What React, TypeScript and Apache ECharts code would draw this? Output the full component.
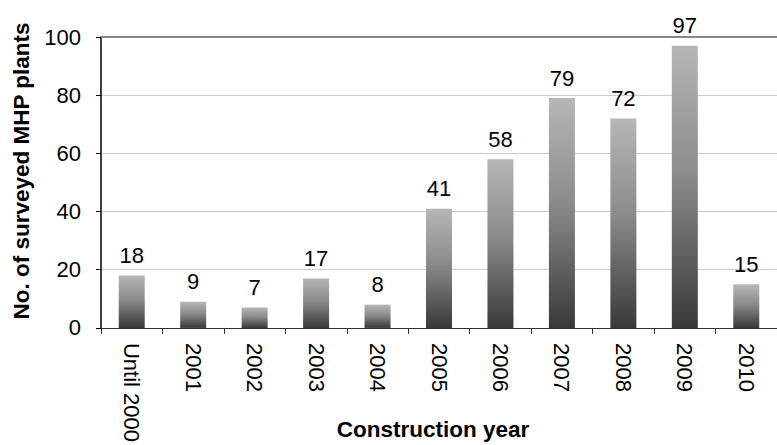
import React, { useEffect, useRef } from "react";
import * as echarts from "echarts";

const categories = ["Until 2000", "2001", "2002", "2003", "2004", "2005", "2006", "2007", "2008", "2009", "2010"];
const plantCounts = [18, 9, 7, 17, 8, 41, 58, 79, 72, 97, 15];
const yTitle = "No. of surveyed MHP plants";
const xTitle = "Construction year";

const FONT = "'Liberation Sans', Arial, sans-serif";
const FS = 22;

export default function App() {
  const ref = useRef<HTMLDivElement>(null);
  useEffect(() => {
    if (!ref.current) return;
    const chart = echarts.init(ref.current, null, { renderer: "svg" });
    const barColor = new echarts.graphic.LinearGradient(0, 0, 0, 1, [
      { offset: 0, color: "#b6b6b6" },
      { offset: 0.45, color: "#8c8c8c" },
      { offset: 1, color: "#393939" },
    ]);
    chart.setOption({
      animation: false,
      backgroundColor: "#ffffff",
      textStyle: { fontFamily: FONT },
      grid: { left: 101, top: 37, width: 688, height: 294.5, containLabel: false },
      xAxis: [
        {
          type: "category",
          data: categories,
          position: "bottom",
          axisLine: { lineStyle: { color: "#303030", width: 1 } },
          axisTick: { show: true, length: 6, lineStyle: { color: "#303030" } },
          axisLabel: {
            rotate: -90,
            margin: 15,
            color: "#000",
            fontSize: FS,
            fontFamily: FONT,
          },
          splitLine: { show: false },
        },
        {
          type: "category",
          data: categories,
          position: "top",
          axisLine: { show: true, lineStyle: { color: "#858585", width: 2 } },
          axisTick: { show: false },
          axisLabel: { show: false },
        },
      ],
      yAxis: {
        type: "value",
        min: 0,
        max: 100,
        interval: 20,
        axisLine: { show: true, lineStyle: { color: "#000", width: 1.5 } },
        axisTick: { show: true, length: 5, lineStyle: { color: "#000" } },
        axisLabel: { color: "#000", fontSize: FS, margin: 20, fontFamily: FONT },
        splitLine: { show: true, lineStyle: { color: "#cccccc", width: 1 } },
      },
      graphic: [
        {
          type: "text",
          x: 21,
          y: 171,
          rotation: Math.PI / 2,
          style: {
            text: yTitle,
            fontSize: 22.5,
            fontWeight: "bold",
            fontFamily: FONT,
            fill: "#000",
            textAlign: "center",
            textVerticalAlign: "middle",
          },
        },
        {
          type: "text",
          x: 433,
          y: 429,
          style: {
            text: xTitle,
            fontSize: 22.5,
            fontWeight: "bold",
            fontFamily: FONT,
            fill: "#000",
            textAlign: "center",
            textVerticalAlign: "middle",
          },
        },
      ],
      series: [
        {
          type: "bar",
          data: plantCounts,
          barWidth: 26,
          itemStyle: { color: barColor },
          label: {
            show: true,
            position: "top",
            distance: 9,
            color: "#000",
            fontSize: FS,
            fontFamily: FONT,
          },
        },
      ],
    });
    return () => chart.dispose();
  }, []);
  return (
    <div
      ref={ref}
      style={{ position: "absolute", left: 0, top: 0, width: 777, height: 445 }}
    />
  );
}
